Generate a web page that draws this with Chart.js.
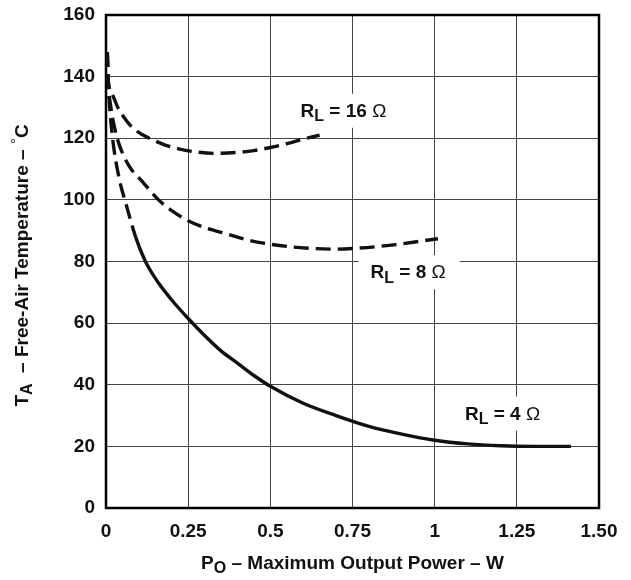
<!DOCTYPE html>
<html>
<head>
<meta charset="utf-8">
<script src="https://cdn.jsdelivr.net/npm/chart.js@4/dist/chart.umd.min.js"></script>
<style>
  html, body { margin: 0; padding: 0; background: #fff; }
</style>
</head>
<body>
<canvas id="tempChart" width="631" height="580"></canvas>
<script>
// Free-air temperature vs max output power, one curve per load resistance.

const xTicks = [0, 0.25, 0.5, 0.75, 1, 1.25, 1.5];
const xTickLabels = ["0", "0.25", "0.5", "0.75", "1", "1.25", "1.50"];
const yTicks = [0, 20, 40, 60, 80, 100, 120, 140, 160];

const r4Power = [0.004, 0.006, 0.01, 0.02, 0.04, 0.06, 0.09, 0.12, 0.16, 0.2, 0.25, 0.3, 0.35, 0.4, 0.45, 0.5, 0.6, 0.7, 0.8, 0.9, 1.0, 1.1, 1.2, 1.3, 1.415];
const r4Temp = [148, 140, 132, 120, 107, 99, 88, 80, 73, 67.5, 61.5, 56, 51, 47, 43, 39.5, 34, 30, 26.5, 24, 22, 20.8, 20.2, 20, 20];

const r8Power = [0.004, 0.006, 0.015, 0.026, 0.04, 0.07, 0.11, 0.16, 0.2, 0.25, 0.3, 0.37, 0.43, 0.5, 0.59, 0.7, 0.75, 0.875, 1.01];
const r8Temp = [148, 140, 130, 123.5, 118, 111, 106, 100, 96.5, 93.2, 91, 88.9, 87, 85.6, 84.5, 84, 84.2, 85.4, 87.4];

const r16Power = [0.004, 0.006, 0.02, 0.036, 0.06, 0.082, 0.11, 0.138, 0.18, 0.224, 0.27, 0.33, 0.4, 0.45, 0.5, 0.56, 0.6, 0.65];
const r16Temp = [148, 140, 134, 130, 126, 123.3, 121.2, 119.7, 117.8, 116.5, 115.6, 115.1, 115.4, 116, 117, 118.5, 119.7, 121];

// curve labels: [load text, power at left edge, temp at vertical centre]
const curveLabels = [
  ["16", 0.592, 128.6],
  ["8", 0.805, 76.2],
  ["4", 1.092, 30.3],
];

const FONT = "'Liberation Sans', Arial, sans-serif";
const INK = "#111";

const toXY = (xs, ys) => xs.map((x, i) => ({ x, y: ys[i] }));

// rows of text runs, so subscripts can sit lower
function runsWidth(ctx, runs) {
  let total = 0;
  runs.forEach((r) => { ctx.font = r.font; total += ctx.measureText(r.t).width; });
  return total;
}

function drawRuns(ctx, runs, x, y, align) {
  const total = runsWidth(ctx, runs);
  let cx = align === "center" ? x - total / 2 : x;
  ctx.textBaseline = "middle";
  ctx.textAlign = "left";
  runs.forEach((r) => {
    ctx.font = r.font;
    ctx.fillText(r.t, cx, y + (r.dy || 0));
    cx += ctx.measureText(r.t).width;
  });
  return total;
}

const big = "bold 19px " + FONT;
const sub = "bold 16px " + FONT;

function labelRuns(load) {
  return [
    { t: "R", font: big },
    { t: "L", font: sub, dy: 5 },
    { t: " = " + load + " ", font: big },
    { t: "\u03A9", font: "19px " + FONT },
  ];
}

const decorPlugin = {
  id: "decor",
  beforeDatasetsDraw(chart) {
    const { ctx, chartArea: a, scales } = chart;
    ctx.save();
    // frame
    ctx.strokeStyle = "#000";
    ctx.lineWidth = 2.5;
    ctx.strokeRect(a.left, a.top, a.right - a.left, a.bottom - a.top);
    // white boxes behind curve labels (they break the grid lines)
    ctx.fillStyle = "#fff";
    curveLabels.forEach(([load, px, py]) => {
      const x = scales.x.getPixelForValue(px);
      const y = scales.y.getPixelForValue(py);
      const w = runsWidth(ctx, labelRuns(load));
      ctx.fillRect(x - 12, y - 18, w + 26, 34);
    });
    ctx.restore();
  },
  afterDatasetsDraw(chart) {
    const { ctx, chartArea: a, scales } = chart;
    ctx.save();
    ctx.fillStyle = INK;
    curveLabels.forEach(([load, px, py]) => {
      drawRuns(ctx, labelRuns(load), scales.x.getPixelForValue(px), scales.y.getPixelForValue(py), "left");
    });

    // x axis title
    drawRuns(ctx, [
      { t: "P", font: big },
      { t: "O", font: sub, dy: 5 },
      { t: " \u2013 Maximum Output Power \u2013 W", font: big },
    ], (a.left + a.right) / 2, 564, "center");

    // y axis title, rotated
    ctx.translate(23, (a.top + a.bottom) / 2 + 4);
    ctx.rotate(-Math.PI / 2);
    drawRuns(ctx, [
      { t: "T", font: big },
      { t: "A", font: sub, dy: 5 },
      { t: "  \u2013 Free-Air Temperature \u2013 ", font: big },
      { t: "\u00B0", font: "15px " + FONT, dy: -6 },
      { t: "C", font: big },
    ], 0, 0, "center");
    ctx.restore();
  },
};

const lineStyle = {
  borderColor: INK,
  borderWidth: 3.4,
  pointRadius: 0,
  fill: false,
  cubicInterpolationMode: "monotone",
};

new Chart(document.getElementById("tempChart"), {
  type: "line",
  data: {
    datasets: [
      {
        ...lineStyle,
        label: "RL = 4",
        data: toXY(r4Power, r4Temp),
        // datasheet trace is broken near the top, solid below
        segment: { borderDash: (s) => (s.p0.parsed.x < 0.07 ? [15, 7] : undefined) },
      },
      { ...lineStyle, label: "RL = 8", data: toXY(r8Power, r8Temp), borderDash: [15, 7] },
      { ...lineStyle, label: "RL = 16", data: toXY(r16Power, r16Temp), borderDash: [15, 7] },
    ],
  },
  options: {
    responsive: false,
    animation: false,
    devicePixelRatio: 1,
    layout: { padding: { left: 0, top: 15, right: 32, bottom: 0 } },
    plugins: { legend: { display: false }, tooltip: { enabled: false } },
    scales: {
      x: {
        type: "linear",
        min: 0,
        max: 1.5,
        afterFit: (s) => { s.height = 72; s.paddingLeft = 0; s.paddingRight = 0; },
        afterBuildTicks: (s) => { s.ticks = xTicks.map((v) => ({ value: v })); },
        grid: { color: "#444", lineWidth: 1, drawTicks: false },
        border: { display: false },
        ticks: {
          autoSkip: false,
          maxRotation: 0,
          padding: 12,
          color: INK,
          font: { family: FONT, weight: "bold", size: 19 },
          callback: (v, i) => xTickLabels[i],
        },
      },
      y: {
        min: 0,
        max: 160,
        afterFit: (s) => { s.width = 106; s.paddingTop = 0; s.paddingBottom = 0; },
        afterBuildTicks: (s) => { s.ticks = yTicks.map((v) => ({ value: v })); },
        grid: { color: "#444", lineWidth: 1, drawTicks: false },
        border: { display: false },
        ticks: {
          padding: 11,
          color: INK,
          font: { family: FONT, weight: "bold", size: 19 },
        },
      },
    },
  },
  plugins: [decorPlugin],
});
</script>
</body>
</html>
